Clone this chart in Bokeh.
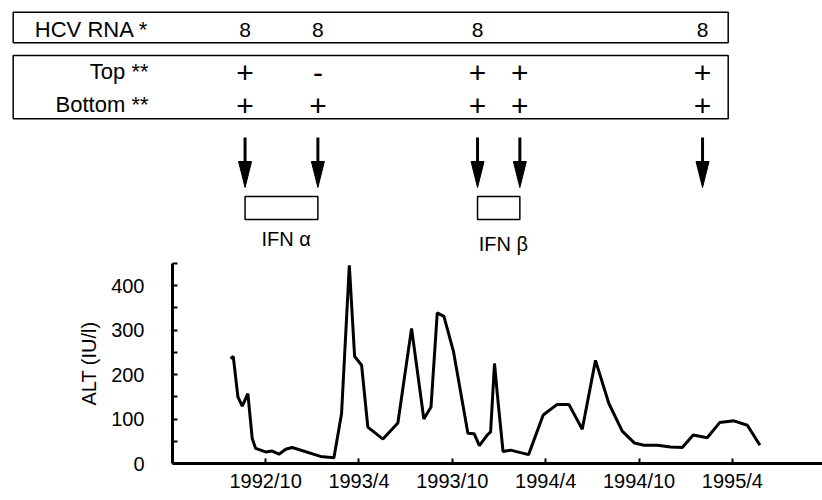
from bokeh.plotting import figure
from bokeh.models import Range1d, FixedTicker
from bokeh.core.properties import value
from bokeh.embed import file_html
from bokeh.resources import INLINE

FONT = "Liberation Sans"

# ---------------- data (x = months since 1992/01) ----------------
alt_month = [6.75, 6.92, 7.22, 7.50, 7.86, 8.14, 8.36, 9.00, 9.43, 9.86,
             10.29, 10.71, 12.53, 13.39, 13.88, 14.38, 14.72, 15.17, 15.57, 16.54,
             17.50, 18.38, 19.17, 19.63, 20.03, 20.46, 21.08, 22.00, 22.40, 22.74,
             23.24, 23.46, 23.71, 23.93, 24.26, 24.74, 25.90, 26.84, 27.74, 28.49,
             29.35, 30.20, 31.06, 31.92, 32.71, 33.31, 34.17, 35.03, 35.78, 36.48,
             37.38, 38.18, 39.10, 39.96, 40.77]
alt_value = [236, 241, 150, 129, 157, 56, 34, 26, 28, 21,
             32, 36, 16, 13, 112, 446, 241, 221, 82, 55,
             91, 304, 100, 127, 339, 331, 251, 68, 67, 40,
             64, 71, 225, 142, 27, 30, 20, 109, 133, 133,
             77, 232, 135, 73, 46, 41, 41, 37, 36, 64,
             58, 92, 96, 86, 41]

sample_month = [7.68, 12.36, 22.62, 25.34, 37.08]
hcv_rna = ["8", "8", "8", "", "8"]
top_result = ["+", "-", "+", "+", "+"]
bottom_result = ["+", "+", "+", "+", "+"]

ifn_labels = ["IFN α", "IFN β"]
ifn_start = [7.68, 22.62]
ifn_end = [12.36, 25.34]

x_ticks = [9, 15, 21, 27, 33, 39]
x_tick_labels = ["1992/10", "1993/4", "1993/10", "1994/4", "1994/10", "1995/4"]
y_ticks = [0, 100, 200, 300, 400]
y_minor_ticks = [50, 150, 250, 350, 450]

# ---------------- layout ----------------
W = 822
TOP_H = 258
BOT_H = 242
SCALE = 15.56          # px per month
X_END = 44.79          # month at right edge of page
FRAME_LEFT = 172

def tx(px):
    """page-pixel x -> month coordinate of the top panel (layout helper)"""
    return X_END - (W - px) / SCALE

# ---------------- top panel ----------------
top = figure(width=W, height=TOP_H, output_backend="svg", toolbar_location=None,
             x_range=Range1d(X_END - W / SCALE, X_END), y_range=Range1d(TOP_H, 0),
             min_border_left=0, min_border_right=0, min_border_top=0, min_border_bottom=0)
top.axis.visible = False
top.grid.visible = False
top.outline_line_color = None

box_l, box_r = tx(12.7), tx(727.7)
top.quad(left=[box_l, box_l], right=[box_r, box_r], top=[11.7, 55.0], bottom=[42.3, 118.3],
         fill_color=None, line_color="black", line_width=1.5)

top.text(x=[tx(148)] * 3, y=[29, 71, 104], text=["HCV RNA *", "Top **", "Bottom **"],
         text_font=value(FONT), text_font_size="22px", text_align="right",
         text_baseline="middle", text_color="black")

top.text(x=sample_month, y=[29] * len(sample_month), text=hcv_rna,
         text_font=value(FONT), text_font_size="21px", text_align="center",
         text_baseline="middle", text_color="black")
top.text(x=sample_month, y=[72] * len(sample_month), text=top_result,
         text_font=value(FONT), text_font_size="30px", text_align="center",
         text_baseline="middle", text_color="black")
top.text(x=sample_month, y=[105] * len(sample_month), text=bottom_result,
         text_font=value(FONT), text_font_size="30px", text_align="center",
         text_baseline="middle", text_color="black")

# arrows
top.segment(x0=sample_month, y0=[137] * 5, x1=sample_month, y1=[165] * 5,
            line_color="black", line_width=3)
hw = 6.5 / SCALE
top.patches(xs=[[m - hw, m + hw, m] for m in sample_month],
            ys=[[161, 161, 187] for _ in sample_month],
            fill_color="black", line_color="black", line_width=1)

# IFN periods
top.quad(left=ifn_start, right=ifn_end, top=[196] * 2, bottom=[219] * 2,
         fill_color="white", line_color="black", line_width=1.5)
top.text(x=[(a + b) / 2 + 0.3 for a, b in zip(ifn_start, ifn_end)], y=[238, 243],
         text=ifn_labels, text_font=value(FONT), text_font_size="20px",
         text_align="center", text_baseline="middle", text_color="black")

# ---------------- ALT chart ----------------
p = figure(width=W, height=BOT_H, output_backend="svg", toolbar_location=None,
           x_range=Range1d(X_END - (W - FRAME_LEFT) / SCALE, X_END), y_range=Range1d(0, 450),
           min_border_left=FRAME_LEFT, min_border_right=0, min_border_top=5, min_border_bottom=37)
p.grid.visible = False
p.outline_line_color = None

p.line(alt_month, alt_value, line_color="black", line_width=3)

p.xaxis.ticker = FixedTicker(ticks=x_ticks)
p.xaxis.major_label_overrides = dict(zip(x_ticks, x_tick_labels))
p.yaxis.ticker = FixedTicker(ticks=y_ticks, minor_ticks=y_minor_ticks)

for ax in (p.xaxis[0], p.yaxis[0]):
    ax.axis_line_width = 3
    ax.axis_line_color = "black"
    ax.major_tick_in = 5
    ax.major_tick_out = 0
    ax.minor_tick_in = 5
    ax.minor_tick_out = 0
    ax.major_tick_line_width = 2
    ax.minor_tick_line_width = 2
    ax.major_tick_line_color = "black"
    ax.minor_tick_line_color = "black"
    ax.major_label_text_font = FONT
    ax.major_label_text_font_size = "20px"
    ax.major_label_text_color = "black"

p.xaxis.major_label_standoff = 6
p.yaxis.major_label_standoff = 28
p.yaxis.axis_label = "ALT (IU/l)"
p.yaxis.axis_label_text_font = FONT
p.yaxis.axis_label_text_font_size = "20px"
p.yaxis.axis_label_text_font_style = "normal"
p.yaxis.axis_label_text_color = "black"
p.yaxis.axis_label_standoff = 8

open("out.html", "w").write(file_html([top, p], INLINE))
